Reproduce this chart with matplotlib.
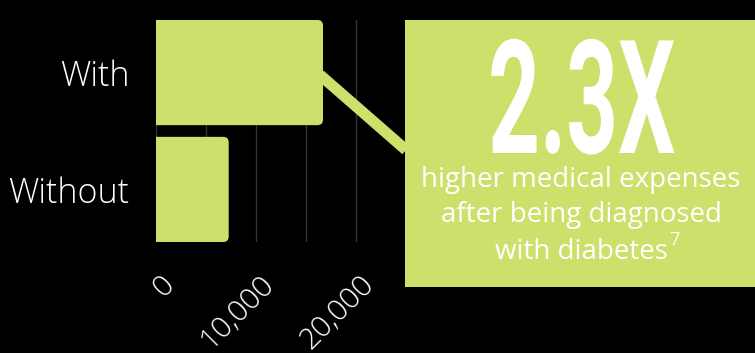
import matplotlib
matplotlib.use('Agg')
import matplotlib.pyplot as plt
from matplotlib.patches import FancyBboxPatch, Rectangle, ConnectionPatch
from matplotlib import patheffects
from matplotlib.text import Annotation
from matplotlib.transforms import Affine2D, ScaledTranslation

# ---- data ----
categories = ['With', 'Without']
expenses = [16700, 7270]
xticks = [0, 10000, 20000]
xtick_labels = ['0', '10,000', '20,000']
minor_ticks = [5000, 15000]
headline = '2.3X'
sub_lines = ['higher medical expenses', 'after being diagnosed', 'with diabetes']
footnote = '7'

GREEN = '#cbe16b'
W, H = 755, 353


class Squeeze(patheffects.AbstractPathEffect):
    """Horizontally condense a text path around its centre."""
    def __init__(self, sx):
        super().__init__()
        self.sx = sx

    def draw_path(self, renderer, gc, tpath, affine, rgbFace=None):
        ext = tpath.get_extents(affine)
        cx = (ext.x0 + ext.x1) / 2
        new = affine + Affine2D().translate(-cx, 0).scale(self.sx, 1).translate(cx, 0)
        renderer.draw_path(gc, tpath, new, rgbFace)


fig = plt.figure(figsize=(W / 100, H / 100), dpi=100, facecolor='black')
ax = fig.add_axes([156 / W, 1 - 242 / H, 250 / W, 222 / H])
ax.set_facecolor('black')

bars = ax.barh(categories, expenses, height=0.9, color=GREEN, zorder=3)
ax.set_xlim(0, 25000)
ax.set_ylim(1.45, -0.45)

# rounded right corners
px_x = 25000 / 250.0
px_y = 1.9 / 222.0
ma = px_y / px_x
for b in bars:
    x0, y0, w, h = b.get_x(), b.get_y(), b.get_width(), b.get_height()
    b.set_visible(False)
    p = FancyBboxPatch((x0 - 1000, y0), w + 1000, h,
                       boxstyle='round,pad=0,rounding_size=550',
                       mutation_aspect=ma, fc=GREEN, ec='none', zorder=3)
    ax.add_patch(p)

ax.set_xticks(xticks)
ax.set_xticks(minor_ticks, minor=True)
ax.grid(axis='x', which='both', color='#333333', lw=1)
ax.set_axisbelow(True)
for s in ax.spines.values():
    s.set_visible(False)

ax.set_xticklabels(xtick_labels, rotation=45, ha='right', fontsize=21.5,
                   color='white', family='Open Sans', fontweight='light')
ax.tick_params(axis='x', which='both', length=0, pad=20)
off = ScaledTranslation(24 / 100, 0, fig.dpi_scale_trans)
for lbl in ax.get_xticklabels():
    lbl.set_transform(lbl.get_transform() + off)

ax.tick_params(axis='y', length=0, pad=19, labelsize=24.5, labelcolor='white')
for lbl in ax.get_yticklabels():
    lbl.set_fontfamily('Open Sans')
    lbl.set_fontweight('light')

# connector line
con = ConnectionPatch(xyA=(expenses[0] - 300, 0.02), coordsA=ax.transData,
                      xyB=(406 / W, 1 - 150 / H), coordsB=fig.transFigure,
                      color=GREEN, lw=8, zorder=2, capstyle='butt')
fig.add_artist(con)

# callout box
fig.add_artist(Rectangle((405 / W, 1 - 287 / H), 350 / W, 267 / H,
                         transform=fig.transFigure, fc=GREEN, ec='none', zorder=3))

fig.text(581 / W, 1 - 153 / H, headline, ha='center', va='baseline',
         fontsize=114, fontweight='bold', family='Roboto', color='white',
         path_effects=[Squeeze(0.57)], zorder=4)

baselines = [187, 222, 259]
texts = []
for line, yb in zip(sub_lines, baselines):
    t = fig.text(581 / W, 1 - yb / H, line, ha='center', va='baseline',
                 fontsize=20, color='white', family='Open Sans', zorder=4)
    texts.append(t)

fn = Annotation(footnote, xy=(1, 1), xycoords=texts[-1], xytext=(1, 5),
                textcoords='offset points', ha='left', va='top', fontsize=13,
                color='white', family='Open Sans', annotation_clip=False)
fn.set_zorder(5)
fig.add_artist(fn)

fig.savefig('out.png', dpi=100, facecolor='black')
